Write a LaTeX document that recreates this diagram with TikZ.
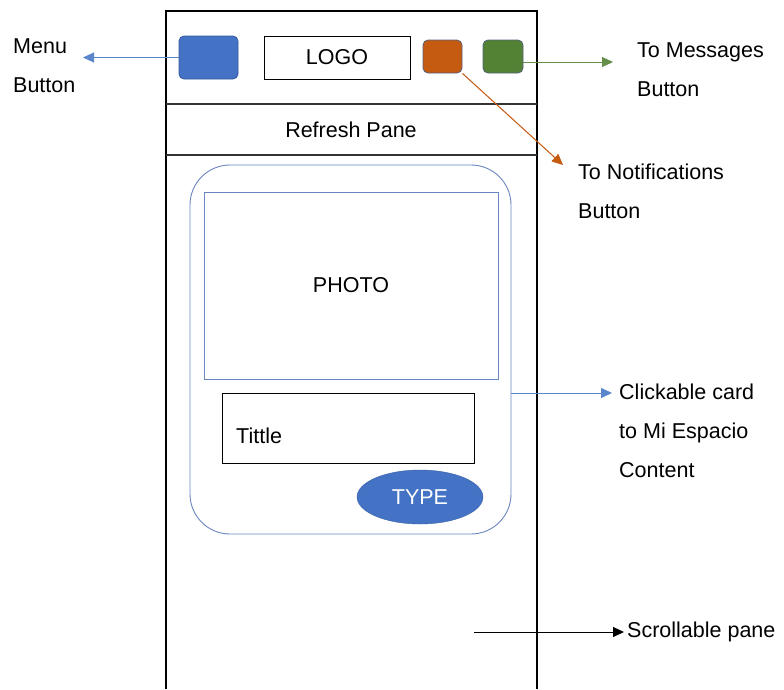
\documentclass[tikz,border=0pt]{standalone}
\usepackage{fontspec}
\setmainfont{Liberation Sans}
\usetikzlibrary{arrows.meta,shapes.geometric}
\definecolor{btnblue}{HTML}{4472C4}
\definecolor{btnorange}{HTML}{C55A11}
\definecolor{btngreen}{HTML}{548235}
\definecolor{cardline}{HTML}{6A86BF}
\definecolor{linkblue}{HTML}{5A86CC}
\definecolor{btnedge}{HTML}{55617A}
\begin{document}
\begin{tikzpicture}[x=1pt,y=-1pt,
  every node/.style={font=\fontsize{21.5}{39}\selectfont, inner sep=0pt},
  frameline/.style={draw=black, line width=1.4pt},
  sepline/.style={draw=black!80, line width=1.2pt},
  btn/.style={draw=btnedge, line width=0.8pt, rounded corners=5pt},
  boxplain/.style={draw=black, line width=1pt},
  label/.style={anchor=west, align=left},
  pointer/.style={line width=1pt, -{Triangle[length=11pt,width=10pt]}}
]
\useasboundingbox (0,0) rectangle (784,689);

% phone outline, header and refresh separators
\draw[frameline] (166,689) -- (166,11) -- (537,11) -- (537,689);
\draw[sepline, line width=1.8pt] (166,104) -- (537,104);
\draw[sepline] (166,155) -- (537,155);

% header bar
\node[btn, fill=btnblue, draw=btnblue!80!black, minimum width=59pt, minimum height=43pt] (menu) at (208.5,57.5) {};
\node[boxplain, minimum width=146pt, minimum height=43pt] (logo) at (337,57.5) {LOGO};
\node[btn, fill=btnorange, minimum width=39pt, minimum height=33pt] (notif) at (442.5,56.5) {};
\node[btn, fill=btngreen, minimum width=40pt, minimum height=33pt] (msg) at (503,56.5) {};

\node (refresh) at (351,130) {Refresh Pane};

% content card
\node[draw=cardline, line width=0.9pt, rounded corners=40pt, minimum width=321pt, minimum height=369pt] (card) at (350.5,349.5) {};
\node[draw=cardline, line width=1pt, minimum width=294pt, minimum height=187pt] (photo) at (351,285.5) {PHOTO};
\node[boxplain, minimum width=252pt, minimum height=70pt] (titlebox) at (348,428) {};
\node[anchor=west] (titletext) at (236,436) {Tittle};
\node[ellipse, fill=btnblue, draw=btnblue!85!black, minimum width=126pt, minimum height=54pt, text=white] (type) at (420,497) {TYPE};

% annotations
\node[label] (menulbl) at (13,66) {Menu\\Button};
\node[label] (msglbl) at (637,70) {To Messages\\Button};
\node[label] (notiflbl) at (578,191) {To Notifications\\Button};
\node[label] (cardlbl) at (619,431) {Clickable card\\to Mi Espacio\\Content};
\node[anchor=west] (scrolllbl) at (627,632) {Scrollable pane};

\coordinate (menutip) at (83,57.5);
\coordinate (msgtip) at (613,62);
\coordinate (notiftip) at (563,165);
\coordinate (cardtip) at (612,393);
\coordinate (scrollstart) at (474,632);

\draw[pointer, draw=linkblue, fill=linkblue] (menu.west) -- (menutip);
\draw[pointer, draw=btngreen!90!white, fill=btngreen!90!white] (msg.east |- msgtip) -- (msgtip);
\draw[pointer, draw=btnorange, fill=btnorange] (notif.south east) -- (notiftip);
\draw[pointer, draw=linkblue, fill=linkblue] (card.east |- cardtip) -- (cardtip);
\draw[pointer, draw=black, fill=black, shorten >=3pt] (scrollstart) -- (scrolllbl.west);
\end{tikzpicture}
\end{document}
